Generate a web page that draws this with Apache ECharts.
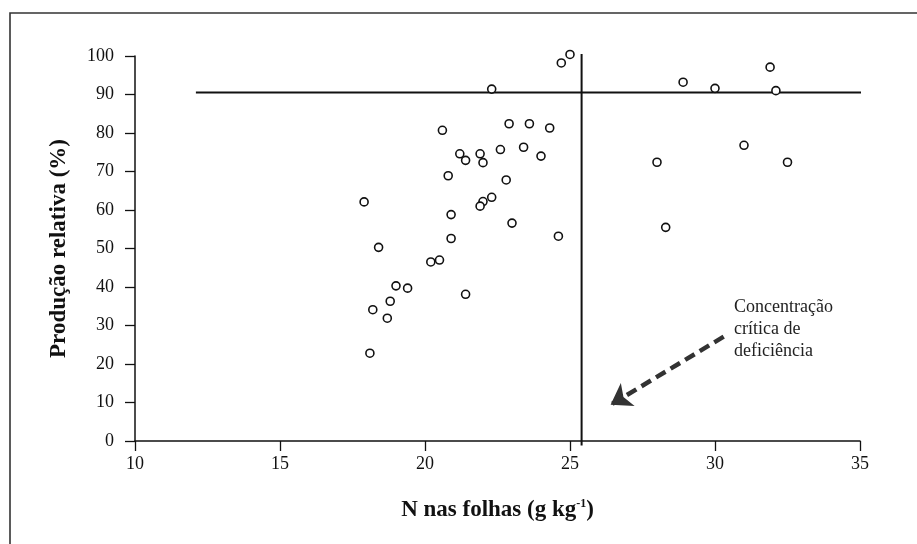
<!DOCTYPE html>
<html>
<head>
<meta charset="utf-8">
<script src="https://cdn.jsdelivr.net/npm/echarts@6/dist/echarts.min.js"></script>
<style>
html,body{margin:0;padding:0;background:#fff;}
#c{width:917px;height:544px;}
</style>
</head>
<body>
<div id="c"></div>
<script>
// Data
const nFolhas = [25.0, 24.7, 22.3, 28.9, 30.0, 31.9, 32.1, 20.6, 22.9, 23.6, 24.3, 21.2, 21.4, 21.9, 22.0, 22.6, 23.4, 24.0, 20.8, 22.8, 28.0, 31.0, 32.5, 17.9, 22.3, 22.0, 21.9, 20.9, 23.0, 28.3, 24.6, 20.9, 18.4, 20.2, 20.5, 19.0, 19.4, 21.4, 18.8, 18.2, 18.7, 18.1];
const producao = [100.4, 98.2, 91.4, 93.2, 91.6, 97.1, 91.0, 80.7, 82.4, 82.4, 81.3, 74.6, 72.9, 74.6, 72.3, 75.7, 76.3, 74.0, 68.9, 67.8, 72.4, 76.8, 72.4, 62.1, 63.3, 62.2, 61.0, 58.8, 56.6, 55.5, 53.2, 52.6, 50.3, 46.5, 47.0, 40.3, 39.7, 38.1, 36.3, 34.1, 31.9, 22.8];
const xTicks = [10, 15, 20, 25, 30, 35];
const yTicks = [0, 10, 20, 30, 40, 50, 60, 70, 80, 90, 100];
const plateauLine = [[12.1, 90.5], [35.8, 90.5]];
const criticalLine = [[25.4, 100.5], [25.4, -1.2]];
const arrowLine = [[30.3, 27.1], [26.4, 9.4]];
const annotationText = ['Concentração', 'crítica de', 'deficiência'];
const xTitle = 'N nas folhas (g kg{sup|-1})';
const yTitle = 'Produção relativa (%)';

const points = nFolhas.map((x, i) => [x, producao[i]]);
const serif = '"Liberation Serif", "DejaVu Serif", serif';

const chart = echarts.init(document.getElementById('c'), null, {renderer: 'canvas'});
chart.setOption({
  backgroundColor: '#fff',
  animation: false,
  grid: {left: 135, right: 57, top: 56, bottom: 103, containLabel: false},
  xAxis: {
    type: 'value', min: xTicks[0], max: xTicks[xTicks.length - 1], interval: 5,
    axisLine: {onZero: true, lineStyle: {color: '#111', width: 1.5}},
    axisTick: {show: true, length: 10, lineStyle: {color: '#111', width: 1.3}},
    axisLabel: {fontFamily: serif, fontSize: 18, color: '#111', margin: 14},
    splitLine: {show: false},
    name: xTitle, nameLocation: 'middle', nameGap: 57,
    nameTextStyle: {fontFamily: serif, fontSize: 23, fontWeight: 'bold', color: '#111',
      rich: {sup: {fontFamily: serif, fontSize: 12, fontWeight: 'bold', color: '#111', verticalAlign: 'top', padding: [0, 0, 12, 0]}}}
  },
  yAxis: {
    type: 'value', min: yTicks[0], max: yTicks[yTicks.length - 1], interval: 10,
    axisLine: {show: true, lineStyle: {color: '#111', width: 1.5}},
    axisTick: {show: true, length: 10, lineStyle: {color: '#111', width: 1.3}},
    axisLabel: {fontFamily: serif, fontSize: 18, color: '#111', margin: 21},
    splitLine: {show: false},
    name: yTitle, nameLocation: 'middle', nameGap: 64, nameRotate: 90,
    nameTextStyle: {fontFamily: serif, fontSize: 23, fontWeight: 'bold', color: '#111'}
  },
  series: [
    {
      type: 'line', data: plateauLine, symbol: 'none', clip: false, silent: true,
      lineStyle: {color: '#111', width: 2}, z: 1
    },
    {
      type: 'line', data: criticalLine, symbol: 'none', clip: false, silent: true,
      lineStyle: {color: '#111', width: 2}, z: 1
    },
    {
      type: 'lines', coordinateSystem: 'cartesian2d', silent: true,
      symbol: ['none', 'arrow'], symbolSize: 20,
      lineStyle: {color: '#333', width: 4.5, type: [11, 6], opacity: 1, curveness: 0},
      data: [{coords: arrowLine}], z: 2
    },
    {
      type: 'scatter', data: points, symbol: 'circle', symbolSize: 8, clip: false,
      itemStyle: {color: '#fff', borderColor: '#111', borderWidth: 1.6, opacity: 1}, z: 3
    }
  ],
  graphic: [
    {type: 'polyline', shape: {points: [[10, 544], [10, 13], [917, 13]]},
     style: {stroke: '#333', lineWidth: 1.6, fill: null}, silent: true},
    {type: 'text', left: 734, top: 296,
     style: {text: annotationText.join('\n'), font: '18px ' + serif, fill: '#222', lineHeight: 22}}
  ]
});
</script>
</body>
</html>
